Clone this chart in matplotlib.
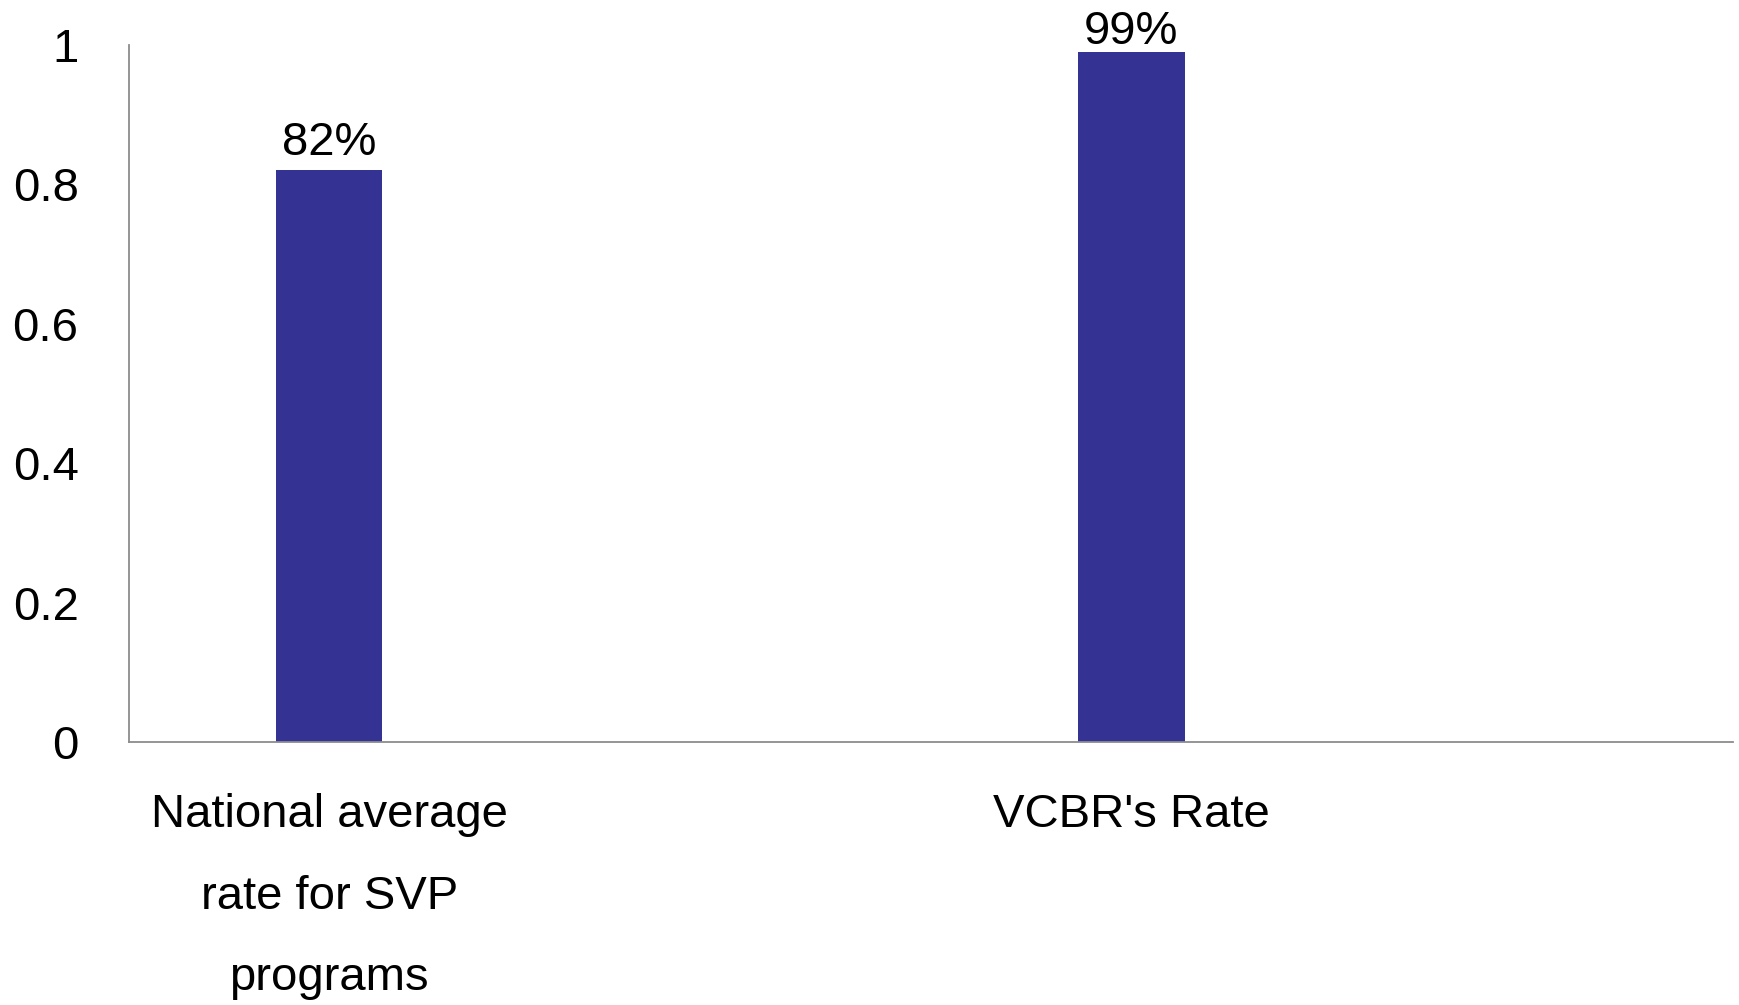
import matplotlib
matplotlib.use("Agg")
import matplotlib.pyplot as plt

categories = ["National average\nrate for SVP\nprograms", "VCBR's Rate"]
values = [0.82, 0.99]
value_labels = ["82%", "99%"]
yticks = [0, 0.2, 0.4, 0.6, 0.8, 1]
ytick_labels = ["0", "0.2", "0.4", "0.6", "0.8", "1"]

plt.rcParams['font.family'] = ['Liberation Sans', 'DejaVu Sans']

fig = plt.figure(figsize=(17.4, 10.05), dpi=100)
ax = fig.add_axes([0.0739, 0.2617, 0.9221, 0.6935])

x = list(range(len(categories)))
bars = ax.bar(x, values, width=0.133, color='#343394', edgecolor='none')

label_offsets = [11.5, 5.5]
for xi, v, lab, off in zip(x, values, value_labels, label_offsets):
    ax.annotate(lab, (xi, v), xytext=(0, off), textcoords='offset points',
                ha='center', va='baseline', fontsize=34, color='black')

ax.set_xlim(-0.25, 1.75)
ax.set_ylim(0, 1)
ax.set_yticks(yticks)
ax.set_yticklabels(ytick_labels, fontsize=34)
ax.set_xticks(x)
ax.set_xticklabels(categories, fontsize=34, linespacing=2.1, va='top')
ax.tick_params(axis='y', length=0, pad=36)
ax.tick_params(axis='x', length=0, pad=37)

for s in ['top', 'right']:
    ax.spines[s].set_visible(False)
for s in ['left', 'bottom']:
    ax.spines[s].set_color('#8c8c8c')
    ax.spines[s].set_linewidth(1.3)

fig.savefig('out.png', dpi=100)
